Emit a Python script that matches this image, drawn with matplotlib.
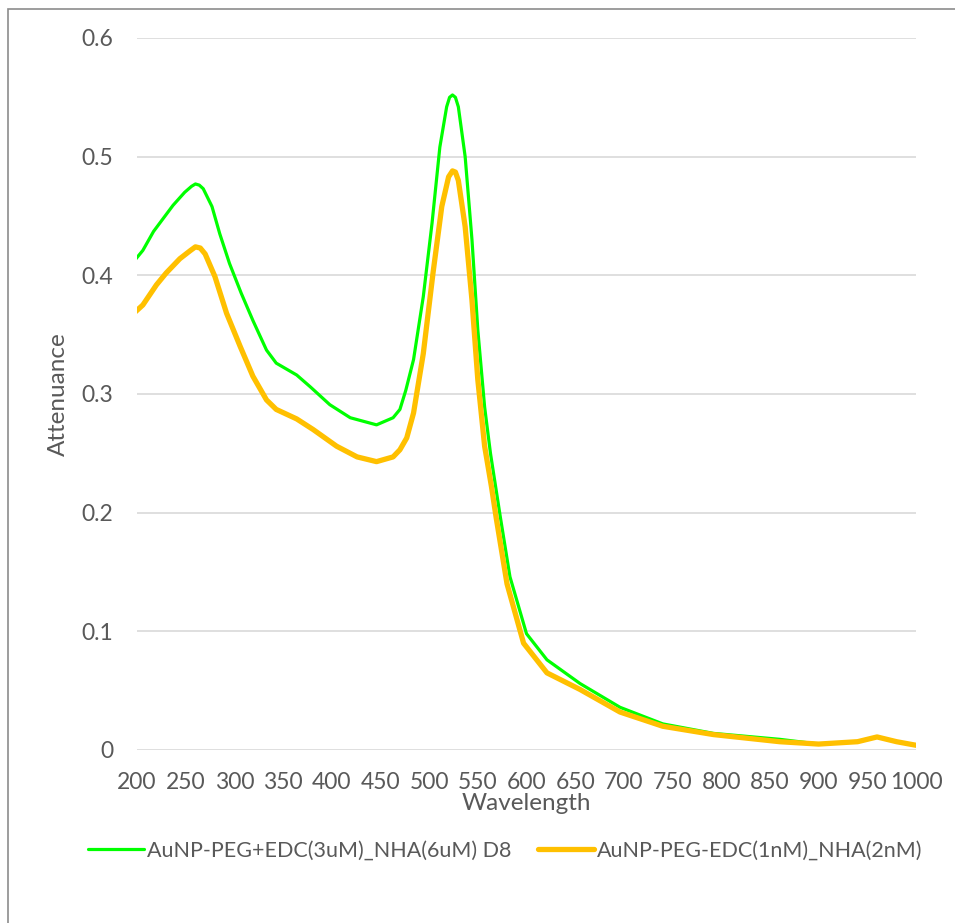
import matplotlib.pyplot as plt
from matplotlib.patches import Rectangle

wl_green = [198, 206, 217, 227, 237, 249, 256, 260, 264, 268, 277, 285, 295, 307,
            319, 333, 343, 364, 378, 398, 419, 446, 463, 470, 476, 484, 494, 503,
            511, 518, 521, 524, 527, 530, 537, 544, 550, 557, 563, 573, 583, 600,
            621, 655, 696, 740, 792, 860, 900, 940, 960, 980, 1000]
att_green = [0.413, 0.421, 0.437, 0.448, 0.459, 0.470, 0.475, 0.477, 0.476, 0.473,
             0.458, 0.435, 0.410, 0.385, 0.362, 0.337, 0.326, 0.316, 0.306, 0.291,
             0.280, 0.274, 0.280, 0.287, 0.303, 0.329, 0.382, 0.444, 0.508, 0.542,
             0.550, 0.552, 0.550, 0.542, 0.500, 0.430, 0.354, 0.289, 0.250, 0.197,
             0.146, 0.098, 0.076, 0.056, 0.036, 0.022, 0.014, 0.009, 0.005, 0.007,
             0.011, 0.007, 0.004]

wl_orange = [198, 206, 220, 230, 244, 255, 260, 265, 270, 280, 292, 306, 319, 333,
             343, 364, 381, 405, 426, 446, 463, 470, 477, 484, 494, 504, 513, 520,
             524, 527, 530, 537, 544, 550, 557, 564, 569, 580, 597, 621, 655, 696,
             740, 792, 860, 900, 940, 960, 980, 1000]
att_orange = [0.369, 0.375, 0.392, 0.402, 0.414, 0.421, 0.424, 0.423, 0.418, 0.399,
              0.368, 0.340, 0.315, 0.295, 0.287, 0.279, 0.270, 0.256, 0.247, 0.243,
              0.247, 0.253, 0.263, 0.284, 0.334, 0.402, 0.458, 0.483, 0.488, 0.487,
              0.480, 0.441, 0.379, 0.312, 0.256, 0.222, 0.195, 0.140, 0.090, 0.065,
              0.051, 0.032, 0.020, 0.013, 0.007, 0.005, 0.007, 0.011, 0.007, 0.004]

label_green = 'AuNP-PEG+EDC(3uM)_NHA(6uM) D8'
label_orange = 'AuNP-PEG-EDC(1nM)_NHA(2nM)'

txt = '#595959'
plt.rcParams['font.family'] = ['Lato', 'DejaVu Sans']

fig = plt.figure(figsize=(9.55, 9.23), dpi=100)
fig.patches.append(Rectangle((8 / 955, -0.1), 1.1, 1 - 9 / 923 + 0.1,
                             transform=fig.transFigure, fill=False,
                             edgecolor='#8c8c8c', linewidth=1.2))

ax = fig.add_axes([137 / 955, 1 - 750 / 923, (916 - 137) / 955, (750 - 38) / 923])
ax.plot(wl_green, att_green, color='#00ff00', lw=2.3, label=label_green,
        solid_joinstyle='round', solid_capstyle='round')
ax.plot(wl_orange, att_orange, color='#ffc000', lw=3.8, label=label_orange,
        solid_joinstyle='round', solid_capstyle='round')

ax.set_xlim(200, 1000)
ax.set_ylim(0, 0.6)
ax.set_xticks(range(200, 1001, 50))
ax.set_yticks([0, 0.1, 0.2, 0.3, 0.4, 0.5, 0.6])
ax.set_yticklabels(['0', '0.1', '0.2', '0.3', '0.4', '0.5', '0.6'])
ax.grid(axis='y', color='#d9d9d9', lw=1.2)
ax.set_axisbelow(True)
for s in ax.spines.values():
    s.set_visible(False)
ax.tick_params(axis='y', length=0, labelsize=16.5, colors=txt, pad=17)
ax.tick_params(axis='x', length=0, labelsize=16.5, colors=txt, pad=16)
ax.set_xlabel('Wavelength', fontsize=17.5, color=txt, labelpad=0)
ax.set_ylabel('Attenuance', fontsize=17.5, color=txt, labelpad=9)

fig.legend(loc='center', bbox_to_anchor=(0.529, 1 - 851 / 923), ncol=2, frameon=False,
           fontsize=15.5, labelcolor=txt, handlelength=2.6, handletextpad=0.15,
           columnspacing=1.2)

fig.savefig('out.png', dpi=100)
